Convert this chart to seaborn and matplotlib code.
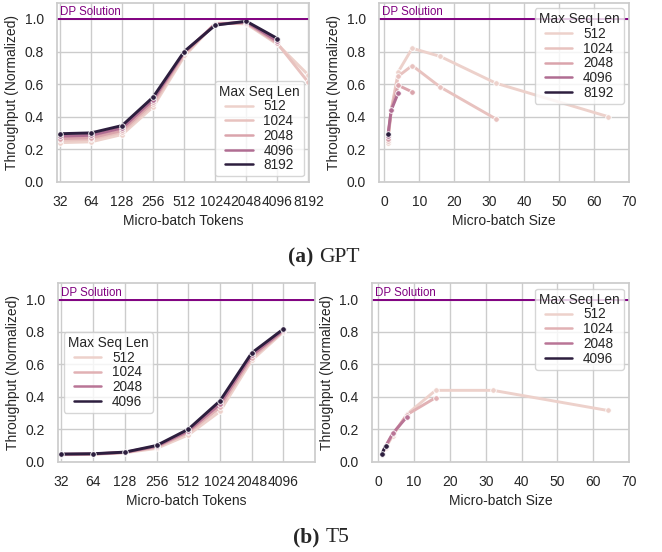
import seaborn as sns
import matplotlib.pyplot as plt
import pandas as pd

# GPT, throughput vs micro-batch tokens
gpt_tokens = [32, 64, 128, 256, 512, 1024, 2048, 4096, 8192]
gpt_seq_lens = [512, 1024, 2048, 4096, 8192]
gpt_tok_512 = [0.240, 0.245, 0.290, 0.460, 0.770, 0.975, 0.970, 0.845, 0.655]
gpt_tok_1024 = [0.255, 0.260, 0.305, 0.475, 0.780, 0.972, 0.975, 0.850, 0.610]
gpt_tok_2048 = [0.265, 0.270, 0.315, 0.490, 0.790, 0.970, 0.978, 0.855]
gpt_tok_4096 = [0.280, 0.285, 0.330, 0.505, 0.795, 0.966, 0.982, 0.865]
gpt_tok_8192 = [0.295, 0.300, 0.345, 0.520, 0.800, 0.962, 0.986, 0.880]

# GPT, throughput vs micro-batch size
gpt_mbs = [1, 2, 4, 8, 16, 32, 64]
gpt_mbs_512 = [0.235, 0.440, 0.675, 0.820, 0.770, 0.605, 0.400]
gpt_mbs_1024 = [0.250, 0.440, 0.648, 0.714, 0.582, 0.385]
gpt_mbs_2048 = [0.265, 0.440, 0.592, 0.552]
gpt_mbs_4096 = [0.280, 0.440, 0.545]
gpt_mbs_8192 = [0.296]

# T5, throughput vs micro-batch tokens
t5_tokens = [32, 64, 128, 256, 512, 1024, 2048, 4096]
t5_seq_lens = [512, 1024, 2048, 4096]
t5_tok_512 = [0.043, 0.045, 0.055, 0.082, 0.165, 0.310, 0.625, 0.800]
t5_tok_1024 = [0.045, 0.047, 0.057, 0.090, 0.180, 0.335, 0.640, 0.805]
t5_tok_2048 = [0.046, 0.048, 0.058, 0.095, 0.190, 0.355, 0.655, 0.810]
t5_tok_4096 = [0.047, 0.049, 0.059, 0.100, 0.200, 0.375, 0.670, 0.818]

# T5, throughput vs micro-batch size
t5_mbs = [1, 2, 4, 8, 16, 32, 64]
t5_mbs_512 = [0.043, 0.085, 0.160, 0.293, 0.440, 0.440, 0.316]
t5_mbs_1024 = [0.045, 0.090, 0.168, 0.290, 0.395]
t5_mbs_2048 = [0.046, 0.095, 0.174, 0.277]
t5_mbs_4096 = [0.047, 0.098]

HUE = "Max Seq Len"
YCOL = "Throughput (Normalized)"


def to_frame(xs, seq_lens, series, xname):
    rows = []
    for seq, vals in zip(seq_lens, series):
        for x, v in zip(xs, vals):
            rows.append({xname: x, YCOL: v, HUE: seq})
    return pd.DataFrame(rows)


df_gpt_tok = to_frame(gpt_tokens, gpt_seq_lens,
                      [gpt_tok_512, gpt_tok_1024, gpt_tok_2048, gpt_tok_4096, gpt_tok_8192],
                      "Micro-batch Tokens")
df_gpt_mbs = to_frame(gpt_mbs, gpt_seq_lens,
                      [gpt_mbs_512, gpt_mbs_1024, gpt_mbs_2048, gpt_mbs_4096, gpt_mbs_8192],
                      "Micro-batch Size")
df_t5_tok = to_frame(t5_tokens, t5_seq_lens,
                     [t5_tok_512, t5_tok_1024, t5_tok_2048, t5_tok_4096],
                     "Micro-batch Tokens")
df_t5_mbs = to_frame(t5_mbs, t5_seq_lens,
                     [t5_mbs_512, t5_mbs_1024, t5_mbs_2048, t5_mbs_4096],
                     "Micro-batch Size")

sns.set_theme(style="whitegrid")
plt.rcParams.update({
    "font.family": ["Liberation Sans", "DejaVu Sans"],
    "font.size": 10,
    "axes.labelsize": 10,
    "xtick.labelsize": 10,
    "ytick.labelsize": 10,
    "legend.fontsize": 9.8,
    "legend.title_fontsize": 9.8,
})

fig = plt.figure(figsize=(6.62, 5.52), dpi=100)
ax_gt = fig.add_axes([0.0866, 0.6708, 0.3807, 0.3243])
ax_gm = fig.add_axes([0.5725, 0.6708, 0.3776, 0.3243])
ax_tt = fig.add_axes([0.0881, 0.1636, 0.3878, 0.3232])
ax_tm = fig.add_axes([0.5615, 0.1636, 0.3887, 0.3232])

line_kw = dict(marker="o", markersize=4, markeredgecolor="white",
               markeredgewidth=0.6, linewidth=2.1)


def draw(ax, df, xname, loc):
    sns.lineplot(data=df, x=xname, y=YCOL, hue=HUE, ax=ax, legend="full", **line_kw)
    ax.axhline(1.0, color="purple", linewidth=1.4)
    ax.text(0.012, 1.003, "DP Solution", color="purple", fontsize=8.3,
            transform=ax.get_yaxis_transform(), va="bottom", ha="left")
    ax.set_ylim(0, 1.1)
    ax.set_yticks([0.0, 0.2, 0.4, 0.6, 0.8, 1.0])
    sns.move_legend(ax, loc, title=HUE, handlelength=2.0, borderpad=0.3,
                    labelspacing=0.05, handletextpad=0.8, borderaxespad=0.4)
    for h in ax.get_legend().legend_handles:
        h.set_marker("")
        h.set_linewidth(1.8)


draw(ax_gt, df_gpt_tok, "Micro-batch Tokens", "lower right")
ax_gt.set_xscale("log", base=2)
ax_gt.set_xticks(gpt_tokens)
ax_gt.set_xticklabels([str(t) for t in gpt_tokens])
ax_gt.minorticks_off()
ax_gt.set_xlim(2 ** 4.915, 2 ** 13.03)

draw(ax_gm, df_gpt_mbs, "Micro-batch Size", "upper right")
ax_gm.set_xticks([0, 10, 20, 30, 40, 50, 60, 70])
ax_gm.set_xlim(-1.5, 70)

draw(ax_tt, df_t5_tok, "Micro-batch Tokens", "center left")
ax_tt.set_xscale("log", base=2)
ax_tt.set_xticks(t5_tokens)
ax_tt.set_xticklabels([str(t) for t in t5_tokens])
ax_tt.minorticks_off()
ax_tt.set_xlim(2 ** 4.9, 2 ** 13)

draw(ax_tm, df_t5_mbs, "Micro-batch Size", "upper right")
ax_tm.set_xticks([0, 10, 20, 30, 40, 50, 60, 70])
ax_tm.set_xlim(-1.85, 70)

# sub-figure captions
serif = ["Liberation Serif", "DejaVu Serif"]
fig.text(0.473, 0.534, "(a)", fontsize=15.5, fontweight="bold", family=serif,
         ha="right", va="center")
fig.text(0.482, 0.534, "GPT", fontsize=15.5, family=serif, ha="left", va="center")
fig.text(0.483, 0.027, "(b)", fontsize=15.5, fontweight="bold", family=serif,
         ha="right", va="center")
fig.text(0.492, 0.027, "T5", fontsize=15.5, family=serif, ha="left", va="center")

fig.savefig("out.png", dpi=100)
